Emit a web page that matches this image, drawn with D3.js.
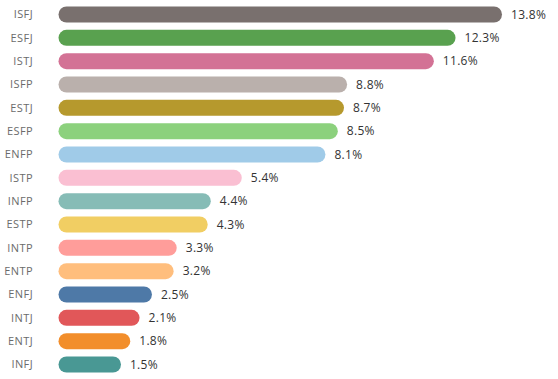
<!DOCTYPE html>
<html><head><meta charset="utf-8">
<script src="https://cdn.jsdelivr.net/npm/d3@7"></script>
<style>body{margin:0;background:#fff}</style>
</head><body>
<svg id="c" width="558" height="379"></svg>
<script>
const categories = ["ISFJ","ESFJ","ISTJ","ISFP","ESTJ","ESFP","ENFP","ISTP","INFP","ESTP","INTP","ENTP","ENFJ","INTJ","ENTJ","INFJ"];
const values = [13.8,12.3,11.6,8.8,8.7,8.5,8.1,5.4,4.4,4.3,3.3,3.2,2.5,2.1,1.8,1.5];
const colors = ["#79706e","#59a14f","#d37295","#bab0ac","#b6992d","#8cd17d","#a0cbe8","#fabfd2","#86bcb6","#f1ce63","#ff9d9a","#ffbe7d","#4e79a7","#e15759","#f28e2b","#499894"];

const svg = d3.select("#c");
const barH = 16;
const x = d3.scaleLinear().domain([0, 13.8]).range([66.5, 494]);
const y = d3.scalePoint().domain(categories).range([14.5, 364.5]);

const g = svg.append("g");
g.selectAll("line.bar").data(categories).join("line")
  .attr("class","bar")
  .attr("x1", x(0))
  .attr("x2", (d,i) => x(values[i]))
  .attr("y1", d => y(d)).attr("y2", d => y(d))
  .attr("stroke", (d,i) => colors[i])
  .attr("stroke-width", barH)
  .attr("stroke-linecap", "round");

g.selectAll("text.cat").data(categories).join("text")
  .attr("class","cat")
  .attr("x", 33).attr("y", d => y(d))
  .attr("dy", "0.36em")
  .attr("text-anchor","end")
  .attr("font-family","'Open Sans', sans-serif")
  .attr("font-size", 11)
  .attr("letter-spacing", 0.4)
  .attr("fill","#6b6b6b")
  .text(d => d);

g.selectAll("text.val").data(categories).join("text")
  .attr("class","val")
  .attr("x", (d,i) => x(values[i]) + barH/2 + 9)
  .attr("y", d => y(d))
  .attr("dy", "0.36em")
  .attr("font-family","'Open Sans', sans-serif")
  .attr("font-size", 12)
  .attr("letter-spacing", 0.3)
  .attr("fill","#333")
  .text((d,i) => values[i].toFixed(1) + "%");
</script>
</body></html>
